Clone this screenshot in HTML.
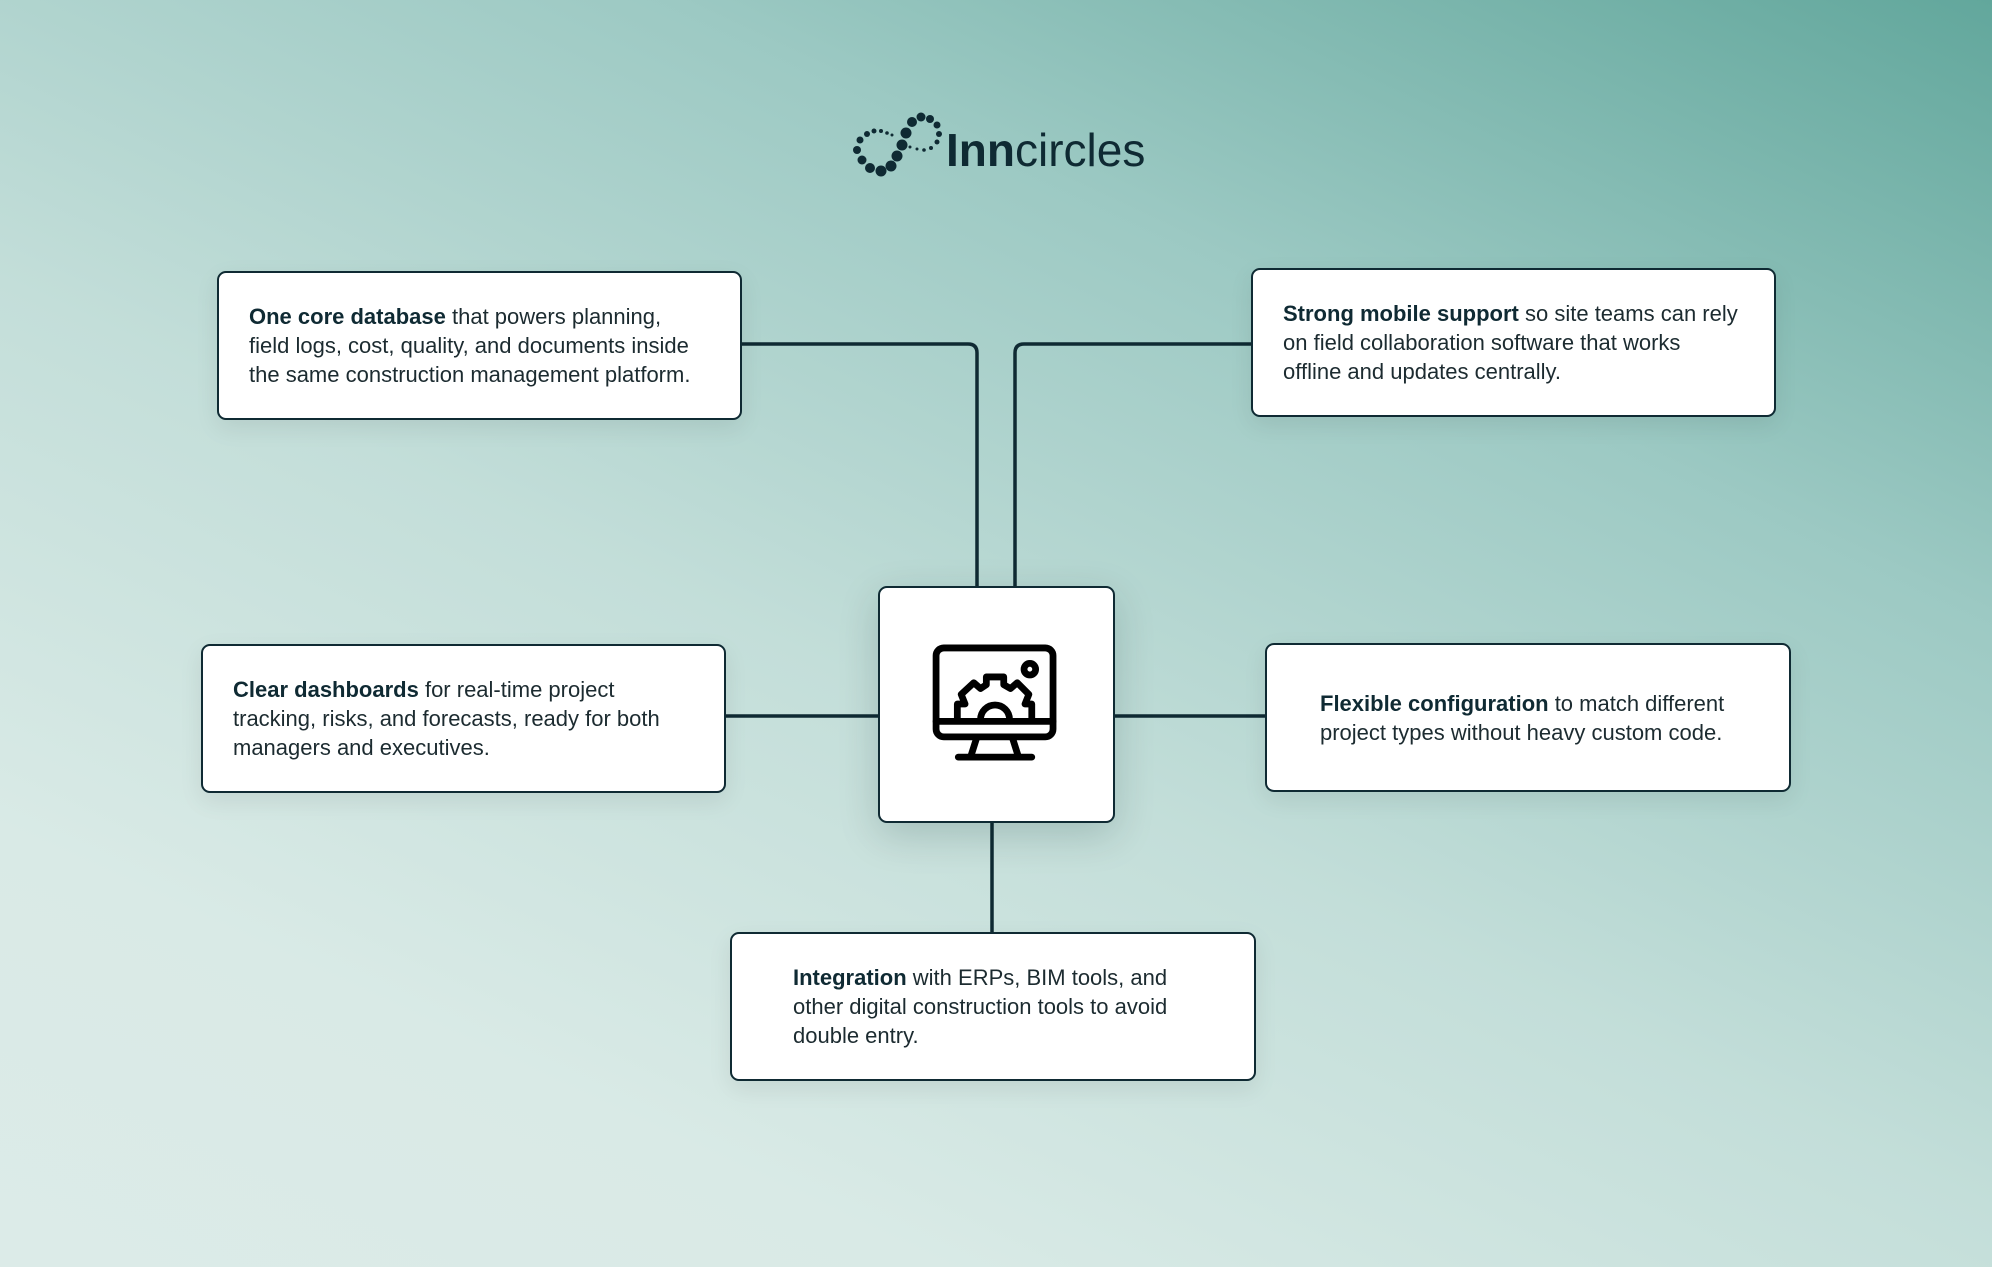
<!DOCTYPE html>
<html><head><meta charset="utf-8"><style>
*{margin:0;padding:0;box-sizing:border-box}
body{width:1992px;height:1267px;overflow:hidden;position:relative;font-family:"Liberation Sans",sans-serif;
background:linear-gradient(205deg,#62a79c 0%,#9cc9c3 28%,#c3ded9 55%,#d9eae6 80%,#dcebe8 100%);}
.box{position:absolute;background:#fff;border:2.5px solid #0f2a33;border-radius:9px;display:flex;align-items:center;
font-size:22px;line-height:29px;color:#1c2b30;box-shadow:0 8px 24px rgba(0,0,0,0.08)}
.box b{color:#0f2a33}
</style></head><body>
<svg style="position:absolute;left:0;top:0" width="1992" height="1267">
<path d="M742 344 H968 Q977 344 977 353 V586" fill="none" stroke="#0f2a33" stroke-width="3.5"/>
<path d="M1251 344 H1024 Q1015 344 1015 353 V586" fill="none" stroke="#0f2a33" stroke-width="3.5"/>
<path d="M725 716 H878 M1115 716 H1265 M992 823 V932" stroke="#0f2a33" stroke-width="3.5"/>
<g fill="#0f2a33">
<circle cx="862" cy="160" r="4.5"/><circle cx="857" cy="150" r="4"/><circle cx="860" cy="140" r="3.5"/><circle cx="867" cy="134" r="3"/><circle cx="874" cy="131" r="2.5"/><circle cx="881" cy="131" r="2"/><circle cx="887" cy="133" r="1.8"/><circle cx="892" cy="135" r="1.5"/>
<circle cx="870" cy="168" r="5"/><circle cx="881" cy="171" r="5.5"/><circle cx="891" cy="166" r="5.5"/><circle cx="897" cy="156" r="5.5"/><circle cx="902" cy="145" r="5.5"/><circle cx="906" cy="133" r="5.5"/><circle cx="912" cy="122" r="5"/><circle cx="921" cy="117" r="4.5"/><circle cx="930" cy="119" r="4"/><circle cx="937" cy="125" r="3.5"/><circle cx="939" cy="134" r="3"/><circle cx="937" cy="142" r="2.5"/><circle cx="931" cy="148" r="2"/><circle cx="924" cy="150" r="1.8"/><circle cx="917" cy="149" r="1.5"/><circle cx="910" cy="147" r="1.5"/>
</g>
<text x="946" y="166" font-family="Liberation Sans,sans-serif" font-size="46" fill="#0f2a33"><tspan font-weight="bold">Inn</tspan>circles</text>
</svg>
<div class="box" style="left:217px;top:271px;width:525px;height:149px;padding-left:30px">
<div><b>One core database</b> that powers planning,<br>field logs, cost, quality, and documents inside<br>the same construction management platform.</div></div>
<div class="box" style="left:1251px;top:268px;width:525px;height:149px;padding-left:30px">
<div><b>Strong mobile support</b> so site teams can rely<br>on field collaboration software that works<br>offline and updates centrally.</div></div>
<div class="box" style="left:201px;top:644px;width:525px;height:149px;padding-left:30px">
<div><b>Clear dashboards</b> for real-time project<br>tracking, risks, and forecasts, ready for both<br>managers and executives.</div></div>
<div class="box" style="left:1265px;top:643px;width:526px;height:149px;padding-left:53px">
<div><b>Flexible configuration</b> to match different<br>project types without heavy custom code.</div></div>
<div class="box" style="left:730px;top:932px;width:526px;height:149px;padding-left:61px">
<div><b>Integration</b> with ERPs, BIM tools, and<br>other digital construction tools to avoid<br>double entry.</div></div>
<div class="box" style="left:878px;top:586px;width:237px;height:237px;box-shadow:0 12px 40px rgba(0,40,40,0.18)">
<svg width="232" height="232" viewBox="0 0 240 240" style="position:absolute;left:0;top:0">
<g fill="none" stroke="#000" stroke-width="7" stroke-linejoin="round" stroke-linecap="round">
<rect x="58" y="62" width="121" height="92" rx="8"/>
<line x1="58" y1="138" x2="179" y2="138"/>
<path d="M100 155 L94 174 M137 155 L143 174"/>
<line x1="81" y1="175" x2="157" y2="175"/>
<circle cx="155" cy="84" r="6"/>
<path d="M80 136 V120 H88 L84 110 L97 98 L104 104 L110 100 V92 H128 V100 L135 104 L142 98 L154 110 L150 120 H157 V136"/>
<path d="M104 136 A15 15 0 0 1 134 136"/>
</g></svg></div>
</body></html>
